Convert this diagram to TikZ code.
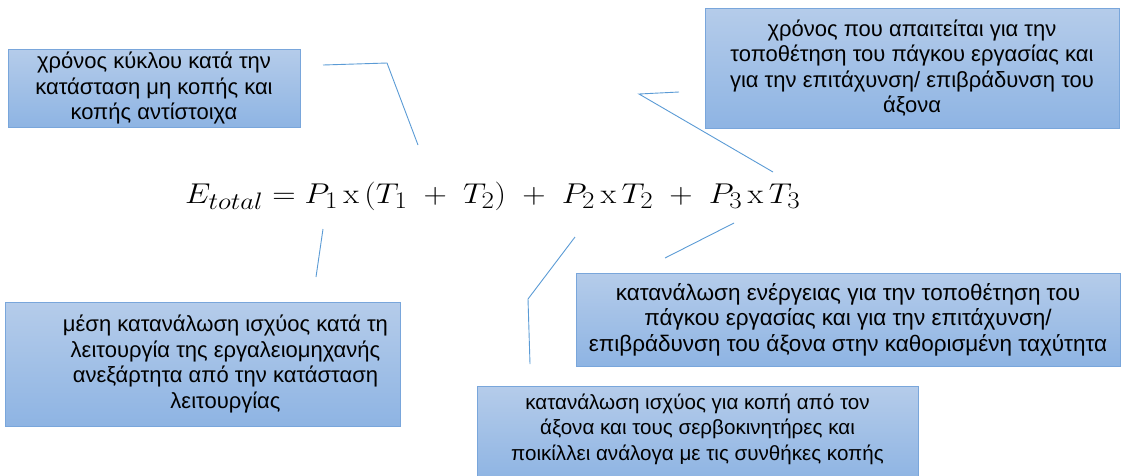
\documentclass[tikz,border=0pt]{standalone}
\usepackage[no-math]{fontspec}
\setmainfont{Liberation Sans}
\definecolor{boxtop}{HTML}{B5CCEA}
\definecolor{boxbot}{HTML}{8EB4E3}
\definecolor{boxedge}{HTML}{79A6DB}
\definecolor{linkc}{HTML}{5B9BD5}
\tikzset{
  box/.style={draw=boxedge, line width=0.8pt, top color=boxtop, bottom color=boxbot, inner sep=0pt},
  boxtext/.style={align=center, font=\fontsize{22}{25.5}\selectfont, text=black, inner sep=0pt},
  link/.style={draw=linkc, line width=0.9pt},
}
\begin{document}
\begin{tikzpicture}[x=1pt,y=-1pt]
\useasboundingbox (0,0) rectangle (1122,475);
\clip (0,0) rectangle (1122,475);
% boxes
\node[box, minimum width=292pt, minimum height=78pt] (b1) at (154,88) {};
\node[boxtext] (t1) at (b1.center) {χρόνος κύκλου κατά την\\κατάσταση μη κοπής και\\κοπής αντίστοιχα};
\node[box, minimum width=414pt, minimum height=120pt] (b2) at (912,68) {};
\node[boxtext] (t2) at (b2.center) {χρόνος που απαιτείται για την\\τοποθέτηση του πάγκου εργασίας και\\για την επιτάχυνση/ επιβράδυνση του\\άξονα};
\node[box, minimum width=395pt, minimum height=124pt] (b3) at (202.5,364) {};
\node[boxtext] (t3) at ([xshift=23pt]b3.center) {μέση κατανάλωση ισχύος κατά τη\\λειτουργία της εργαλειομηχανής\\ανεξάρτητα από την κατάσταση\\λειτουργίας};
\node[box, minimum width=544pt, minimum height=93pt] (b4) at (848,319.5) {};
\node[boxtext, font=\fontsize{22.5}{25.5}\selectfont] (t4) at (b4.center) {κατανάλωση ενέργειας για την τοποθέτηση του\\πάγκου εργασίας και για την επιτάχυνση/\\επιβράδυνση του άξονα στην καθορισμένη ταχύτητα};
\node[box, minimum width=441pt, minimum height=94pt] (b5) at (697.5,433) {};
\node[boxtext, font=\fontsize{20.6}{25.5}\selectfont] (t5) at (697.5,429) {κατανάλωση ισχύος για κοπή από τον\\άξονα και τους σερβοκινητήρες και\\ποικίλλει ανάλογα με τις συνθήκες κοπής};
% formula
\node[inner sep=0pt, anchor=base west] (eq) at (185,203) {\scalebox{1.3}[1.15]{\fontsize{24.88}{30}\selectfont$E_{total} = P_1\,\mathrm{x}\,(T_1\ +\ T_2)\ +\ P_2\,\mathrm{x}\,T_2\ +\ P_3\,\mathrm{x}\,T_3$}};
% connectors
\coordinate (a1) at (323,65); \coordinate (a2) at (387,63); \coordinate (a3) at (418,145);
\draw[link] (a1) -- (a2) -- (a3);
\coordinate (c1) at (679,92); \coordinate (c2) at (639,94); \coordinate (c3) at (773,172);
\draw[link] (c1) -- (c2) -- (c3);
\coordinate (d1) at (323,229); \coordinate (d2) at (316,277);
\draw[link] (d1) -- (d2);
\coordinate (e1) at (575,237); \coordinate (e2) at (528,299); \coordinate (e3) at (530,364);
\draw[link] (e1) -- (e2) -- (e3);
\coordinate (f1) at (734,223); \coordinate (f2) at (665,258);
\draw[link] (f1) -- (f2);
\end{tikzpicture}
\end{document}
